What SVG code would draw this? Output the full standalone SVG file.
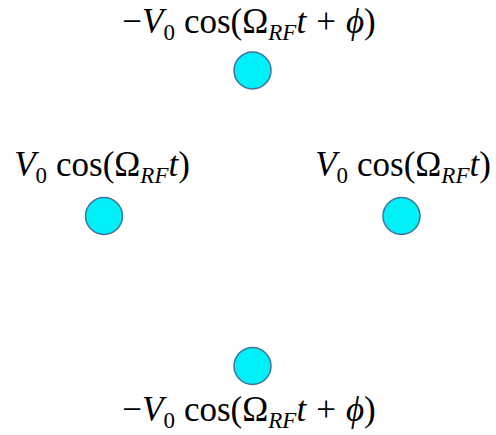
<svg xmlns="http://www.w3.org/2000/svg" width="496" height="435" viewBox="0 0 496 435">
<style>
.ion{fill:#00F0F8;stroke:#41719C;stroke-width:1.5}
.lbl{font-family:"Liberation Serif","DejaVu Serif",serif;font-size:35px;fill:#000;text-anchor:middle}
.it{font-style:italic}
.sub{font-size:23px}
</style>
<rect width="496" height="435" fill="#fff"/>
<g id="top">
<circle class="ion" cx="252.5" cy="70.5" r="18.5"/>
<text class="lbl" x="249" y="33">−<tspan class="it">V</tspan><tspan class="sub" dy="7">0</tspan><tspan dy="-7" dx="9">cos(Ω</tspan><tspan class="sub it" dy="7">RF</tspan><tspan class="it" dy="-7">t</tspan><tspan dx="10">+</tspan><tspan class="it" dx="10">ϕ</tspan>)</text>
</g>
<g id="left">
<circle class="ion" cx="104" cy="216" r="18.5"/>
<text class="lbl" x="102" y="176"><tspan class="it">V</tspan><tspan class="sub" dy="7">0</tspan><tspan dy="-7" dx="9">cos(Ω</tspan><tspan class="sub it" dy="7">RF</tspan><tspan class="it" dy="-7">t</tspan>)</text>
</g>
<g id="right">
<circle class="ion" cx="401.5" cy="216" r="18.5"/>
<text class="lbl" x="403" y="176"><tspan class="it">V</tspan><tspan class="sub" dy="7">0</tspan><tspan dy="-7" dx="9">cos(Ω</tspan><tspan class="sub it" dy="7">RF</tspan><tspan class="it" dy="-7">t</tspan>)</text>
</g>
<g id="bottom">
<circle class="ion" cx="252.5" cy="366" r="18.5"/>
<text class="lbl" x="249" y="421">−<tspan class="it">V</tspan><tspan class="sub" dy="7">0</tspan><tspan dy="-7" dx="9">cos(Ω</tspan><tspan class="sub it" dy="7">RF</tspan><tspan class="it" dy="-7">t</tspan><tspan dx="10">+</tspan><tspan class="it" dx="10">ϕ</tspan>)</text>
</g>
<g id="connectors"/>
</svg>
